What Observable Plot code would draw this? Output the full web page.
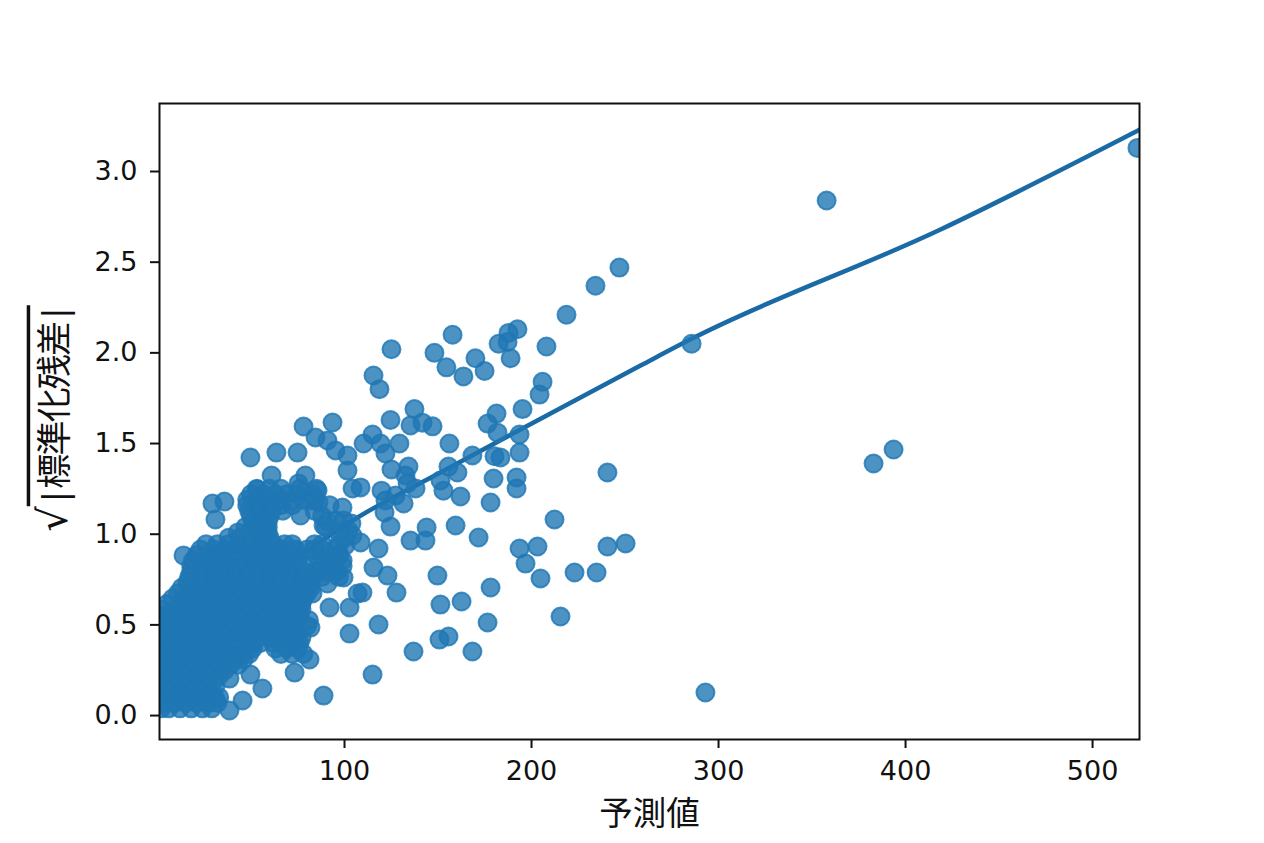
<!DOCTYPE html>
<html>
<head>
<meta charset="utf-8">
<style>html,body{margin:0;padding:0;background:#fff}svg{display:block}</style>
<script src="https://cdn.jsdelivr.net/npm/d3@7"></script>
<script src="https://cdn.jsdelivr.net/npm/@observablehq/plot@0.6"></script>
</head>
<body>
<div id="chart"></div>
<script>
const xLabel = "予測値";
const yRoot = "√";
const yRadicand = "|標準化残差|";
const xTicks = [100, 200, 300, 400, 500];
const yTicks = [0, 0.5, 1, 1.5, 2, 2.5, 3];

// Smoothed trend line
const fitX = [1.07, 23, 65.8, 107, 151.3, 193.6, 258.3, 286.1, 418.7, 525.1];
const fitY = [0.14, 0.41, 0.8, 1.092, 1.34, 1.575, 1.93, 2.08, 2.68, 3.23];

// Separately readable points: predicted value, sqrt standardised residual
const predicted = [524,357.8,247,234.2,218.7,285.6,208,192.5,187.7,182.4,187.2,188.8,157.8,125.1,148.1,154.5,163.6,170,174.9,115.5,118.7,205.9,204.3,195.2,181.3,176.5,181.8,193.6,137.4,124.6,135.3,141.7,147.1,115,110.2,119.3,129.4,121.9,156.1,168.4,183.4,180.2,193.6,125.1,134.2,132.6,155.6,160.4,151.3,152.9,162,179.7,192,192,178.1,119.8,121.9,127.3,131.6,138,133.7,240.6,382.9,393.6,121.4,124.6,143.9,135.3,143.3,159.4,171.7,212.3,193.6,203.2,196.8,204.8,240.6,250.3,223,234.8,215.5,118.2,115.5,123,127.8,149.7,178.1,151.3,162.6,176.5,155.6,150.8,136.9,168.4,118.2,102.7,115,109.6,107,102.7,92,293,88.8,49.7,63.6,74.9,78.1,93.6,84.5,90.9,95.2,101.6,101.6,104.3,108.6,103.7,104.3,108.6,99.5,102.1,100.5,98.9,95.2,97.3,99.5,90.9,95.2,82.9,81.8,64.7,74.9,81.3,73.3,49.7,56.1,38.5,45.5,38.5,31,13.9,29.4,35.8,31,53.5,61,79.1,75.4,85.6,81.8,86.1,76.5,88.8];
const residual = [3.13,2.84,2.47,2.37,2.21,2.05,2.035,2.13,2.11,2.05,2.06,1.97,2.1,2.02,2,1.92,1.87,1.97,1.9,1.875,1.8,1.84,1.77,1.69,1.665,1.61,1.56,1.55,1.69,1.63,1.6,1.615,1.595,1.55,1.5,1.5,1.5,1.445,1.5,1.434,1.423,1.43,1.45,1.357,1.373,1.324,1.373,1.34,1.296,1.24,1.208,1.307,1.313,1.252,1.175,1.24,1.186,1.213,1.17,1.252,1.28,1.34,1.39,1.467,1.12,1.042,1.037,0.965,0.965,1.048,0.982,1.081,0.921,0.932,0.838,0.756,0.932,0.949,0.789,0.789,0.546,0.921,0.816,0.772,0.678,0.772,0.706,0.612,0.629,0.513,0.436,0.419,0.353,0.353,0.502,0.452,0.226,0.678,0.673,0.596,0.596,0.127,0.11,1.423,1.45,1.45,1.594,1.616,1.533,1.517,1.462,1.434,1.351,1.252,1.258,1.059,0.993,0.954,1.076,1.02,0.938,1.147,1.076,0.883,0.761,0.728,0.8,0.673,0.485,0.414,0.414,0.309,0.237,0.226,0.149,0.204,0.083,0.028,0.094,0.883,1.169,1.18,1.081,1.247,1.324,1.324,1.28,1.241,1.186,1.175,1.103,1.048];

const massRows = [
  [0.04,[2,6,12,18,24,29]],
  [0.07,[3,9,15,21,27,32]],
  [0.10,[1,7,13,19,25,30,33]],
  [0.13,[4,10,16,22,28]],
  [0.16,[3,9,15,21,27,31]],
  [0.19,[1,6,12,18,24,30]],
  [0.22,[3,9,15,21,27,33]],
  [0.25,[1,6,12,18,24,30,36]],
  [0.28,[3,9,15,21,27,33,39,43]],
  [0.31,[1,6,12,18,24,30,36,42,46]],
  [0.34,[3,9,15,21,27,33,39,45,49,66,72,78]],
  [0.37,[1,6,12,18,24,30,36,42,48,51,63,69,75]],
  [0.40,[3,9,15,21,27,33,39,45,51,55,62,68,76]],
  [0.43,[1,6,12,18,24,30,36,42,48,54,60,66,72,77]],
  [0.46,[3,9,15,21,27,33,39,45,51,57,63,69,75]],
  [0.495,[1,6,12,18,24,30,36,42,48,54,60,66,72,80]],
  [0.525,[3,9,15,21,27,33,39,45,51,57,63,69,74,81]],
  [0.555,[1,6,12,18,24,30,36,42,48,54,60,66,72,76]],
  [0.585,[2,9,15,21,27,33,39,45,51,57,63,69,75,77]],
  [0.615,[5,12,18,24,30,36,42,48,54,60,66,72,77]],
  [0.645,[8,14,20,26,32,38,44,50,56,62,68,74,78]],
  [0.675,[11,17,23,29,35,41,47,53,59,65,71,77,80]],
  [0.705,[13,19,25,31,37,43,49,55,61,67,73,79,82]],
  [0.735,[16,22,28,34,40,46,52,58,64,70,76,82]],
  [0.765,[17,23,29,35,41,47,53,59,65,71,77,83,88,97]],
  [0.795,[18,24,30,36,42,48,54,60,66,72,78,84,91,96]],
  [0.825,[18,24,30,36,42,48,54,60,66,72,78,88,94,99]],
  [0.855,[19,27,33,39,45,51,57,63,69,75,87,93,99]],
  [0.885,[21,27,33,39,45,51,57,63,69,75,85,92,97]],
  [0.915,[23,30,36,42,48,54,60,66,72,74,80,84,88,95]],
  [0.945,[26,32,38,44,50,56,62,68,72,84,88,97]],
  [0.98,[38,44,50,56,60,100]],
  [1.01,[43,49,55,59,97]],
  [1.04,[47,53,59,90]],
  [1.07,[51,55,59,91]],
  [1.10,[50,56,60,88]],
  [1.13,[49,55,61,67,84]],
  [1.16,[48,54,60,66,72,92]],
  [1.19,[48,54,60,66,72,78,84]],
  [1.22,[50,57,63,69,75,83]],
  [1.25,[53,60,66,76,85]]
];

const points = predicted.map((x, i) => ({x, y: residual[i]}))
  .concat(massRows.flatMap(([y, xs]) => xs.map(x => ({x, y}))));
const fit = fitX.map((x, i) => ({x, y: fitY[i]}));
const blue = "#1f77b4";

const plot = Plot.plot({
  width: 1264,
  height: 843,
  marginLeft: 159,
  marginRight: 125,
  marginTop: 103,
  marginBottom: 104,
  style: {fontFamily: "'DejaVu Sans','Noto Sans CJK JP',sans-serif", background: "#fff", color: "#111"},
  x: {domain: [1.07, 525.1]},
  y: {domain: [-0.132, 3.375]},
  marks: [
    Plot.line(fit, {x: "x", y: "y", stroke: "#1a6aa6", strokeWidth: 4.5, curve: "monotone-x", clip: true}),
    Plot.dot(points, {x: "x", y: "y", r: 9, fill: blue, fillOpacity: 0.8, stroke: blue, strokeOpacity: 0.8, strokeWidth: 2, clip: true}),
    Plot.frame({stroke: "#111", strokeWidth: 2}),
    Plot.axisX({ticks: xTicks, tickSize: 9, tickPadding: 12, fontSize: 27, label: null, stroke: "#111", strokeWidth: 2}),
    Plot.axisY({ticks: yTicks, tickSize: 9, tickPadding: 13, fontSize: 27, label: null, tickFormat: d3.format(".1f"), stroke: "#111", strokeWidth: 2}),
    Plot.text([xLabel], {frameAnchor: "bottom", dy: 85, fontSize: 33.5, fontFamily: "'Noto Sans CJK JP',sans-serif", fill: "#111"}),
    Plot.text([yRoot], {frameAnchor: "left", textAnchor: "middle", dx: -104, dy: -3, rotate: -90, fontSize: 35, fontFamily: "'Noto Sans CJK JP',sans-serif", fill: "#111", className: "ylabel"})
  ]
});
document.getElementById("chart").append(plot);

const label = d3.select(plot).select(".ylabel text");
label.text(null);
label.append("tspan").style("font-family", "'DejaVu Sans'").style("font-size", "40px").text(yRoot);
label.append("tspan")
  .style("font-family", "'Noto Sans','Noto Sans CJK JP'")
  .style("letter-spacing", "-1.8px")
  .style("text-decoration", "overline")
  .style("text-decoration-thickness", "2px")
  .text(yRadicand);
</script>
</body>
</html>
